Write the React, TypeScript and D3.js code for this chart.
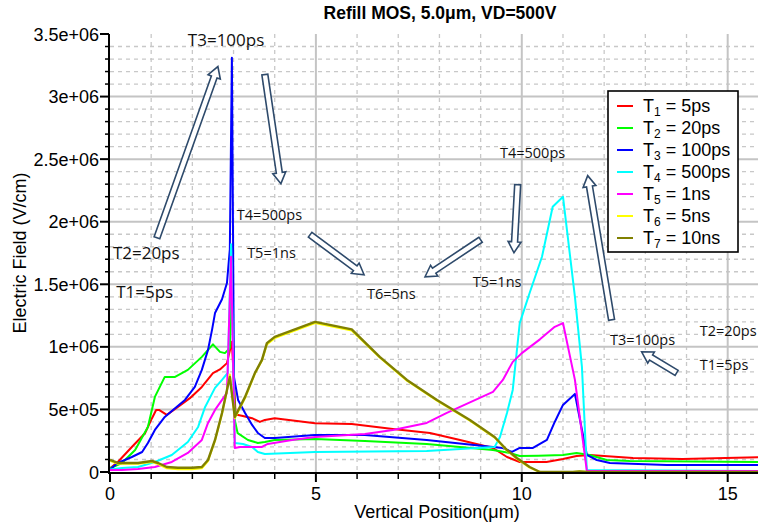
import * as d3 from "d3";

// series values [position (um), field (V/cm)]
const t1: [number, number][] = [
  [0, 3e4], [0.19, 8e4], [0.53, 2.0e5], [0.85, 3.1e5], [1.02, 4.3e5], [1.12, 4.96e5], [1.19, 4.96e5],
  [1.38, 4.56e5], [1.65, 5.2e5], [1.94, 5.9e5], [2.23, 6.8e5], [2.5, 7.9e5], [2.67, 8.2e5], [2.84, 8.7e5],
  [2.96, 1.04e6], [3.05, 4.6e5], [3.2, 4.5e5], [3.45, 4.3e5], [3.64, 4.0e5], [3.76, 4.16e5], [4.0, 4.3e5],
  [4.98, 3.9e5], [5.87, 3.84e5], [6.87, 3.44e5], [7.77, 3.12e5], [8.5, 2.56e5], [9.3, 1.92e5], [9.64, 1.2e5],
  [9.95, 8e4], [10.6, 8e4], [11.0, 1.04e5], [11.33, 1.28e5], [11.65, 1.36e5], [12.7, 1.12e5], [13.9, 1.04e5],
  [16, 1.2e5],
];
const t2: [number, number][] = [
  [0, 3e4], [0.29, 7.2e4], [0.61, 1.76e5], [0.92, 3.6e5], [1.09, 6.0e5], [1.33, 7.6e5], [1.58, 7.6e5],
  [1.89, 8.16e5], [2.23, 9.2e5], [2.5, 1.02e6], [2.67, 9.6e5], [2.79, 9.5e5], [2.91, 9.9e5], [2.95, 1.6e6],
  [3.03, 4.16e5], [3.1, 3.1e5], [3.35, 2.56e5], [3.59, 2.32e5], [3.76, 2.4e5], [4.0, 2.56e5], [4.98, 2.64e5],
  [6.19, 2.48e5], [7.69, 2.24e5], [9.3, 1.76e5], [9.71, 1.52e5], [9.95, 1.28e5], [10.4, 1.3e5], [11.0, 1.36e5],
  [11.33, 1.52e5], [11.65, 1.36e5], [12.06, 9.6e4], [12.62, 8.8e4], [16, 8e4],
];
const t3: [number, number][] = [
  [0, 2e4], [0.19, 7.2e4], [0.53, 1.2e5], [0.78, 1.6e5], [0.92, 2.32e5], [1.09, 3.36e5], [1.33, 4.4e5],
  [1.58, 5.1e5], [1.82, 5.76e5], [2.06, 6.8e5], [2.23, 8.16e5], [2.38, 9.76e5], [2.48, 1.14e6], [2.55, 1.27e6],
  [2.72, 1.38e6], [2.84, 1.51e6], [2.91, 1.78e6], [2.96, 3.31e6], [3.01, 7.6e5], [3.11, 5.76e5], [3.28, 4.72e5],
  [3.45, 3.76e5], [3.59, 3.12e5], [3.76, 2.72e5], [4.0, 2.72e5], [4.98, 2.96e5], [6.19, 2.96e5], [7.69, 2.56e5],
  [9.3, 2.0e5], [9.54, 1.92e5], [9.76, 1.6e5], [9.95, 1.92e5], [10.27, 1.92e5], [10.61, 2.56e5], [10.8, 4.0e5],
  [11.0, 5.36e5], [11.29, 6.24e5], [11.58, 1.36e5], [11.82, 9.6e4], [12.14, 7.2e4], [13.52, 5.6e4], [16, 5.6e4],
];
const t4: [number, number][] = [
  [0, 2e4], [0.29, 3.2e4], [0.68, 4e4], [1.09, 8e4], [1.5, 1.36e5], [1.89, 2.4e5], [2.14, 3.6e5],
  [2.31, 5.2e5], [2.55, 6.72e5], [2.72, 7.36e5], [2.86, 7.92e5], [2.94, 1.82e6], [3.03, 2.32e5], [3.23, 2.24e5],
  [3.45, 2.0e5], [3.59, 1.6e5], [3.76, 1.44e5], [4.98, 1.6e5], [7.69, 1.68e5], [9.34, 2.0e5], [9.47, 2.8e5],
  [9.64, 4.72e5], [9.78, 6.56e5], [9.95, 1.19e6], [10.19, 1.43e6], [10.49, 1.72e6], [10.75, 2.12e6],
  [11.0, 2.2e6], [11.29, 1.4e6], [11.46, 8.4e5], [11.58, 1.6e4], [16, 8e3],
];
const t5: [number, number][] = [
  [0, 1.6e4], [0.29, 1.6e4], [0.68, 2.4e4], [1.09, 4e4], [1.5, 8e4], [1.89, 1.52e5], [2.23, 2.56e5],
  [2.38, 3.92e5], [2.55, 4.96e5], [2.72, 5.76e5], [2.84, 6.32e5], [2.94, 1.72e6], [3.03, 1.92e5], [3.16, 2.0e5],
  [3.45, 2.0e5], [3.69, 2.0e5], [3.83, 2.24e5], [4.42, 2.56e5], [4.98, 2.8e5], [6.19, 3.04e5], [6.87, 3.36e5],
  [7.69, 3.92e5], [8.18, 4.72e5], [9.3, 6.4e5], [9.54, 7.36e5], [9.78, 8.8e5], [10.0, 9.5e5], [10.44, 1.06e6],
  [10.8, 1.16e6], [11.0, 1.19e6], [11.29, 7.36e5], [11.58, 8e3], [16, 8e3],
];
const t6: [number, number][] = [
  [0, 9e4], [0.19, 6.6e4], [0.68, 6.6e4], [1.02, 8e4], [1.17, 6.4e4], [1.38, 3e4], [1.65, 2.2e4],
  [1.99, 2.2e4], [2.23, 3e4], [2.38, 8.8e4], [2.55, 2.5e5], [2.72, 4.66e5], [2.84, 6.5e5], [2.91, 7.8e5],
  [3.03, 4.3e5], [3.28, 5.9e5], [3.52, 7.86e5], [3.69, 8.9e5], [3.81, 1.02e6], [4.0, 1.07e6], [4.98, 1.19e6],
  [5.87, 1.13e6], [6.55, 9.15e5], [7.21, 7.3e5], [7.94, 5.7e5], [8.74, 4.1e5], [9.34, 2.75e5], [9.64, 1.7e5],
  [9.88, 1.06e5], [10.19, 3.5e4], [10.44, 0], [11.24, 0], [11.4, 5e3], [11.6, 0], [16, 0],
];
const t7: [number, number][] = [
  [0, 9.6e4], [0.19, 7.2e4], [0.68, 7.2e4], [1.02, 8.8e4], [1.17, 7.2e4], [1.38, 4e4], [1.65, 3.4e4],
  [1.99, 3.4e4], [2.23, 4e4], [2.38, 9.6e4], [2.55, 2.56e5], [2.72, 4.72e5], [2.84, 6.56e5], [2.91, 7.6e5],
  [3.03, 4.4e5], [3.28, 6e5], [3.52, 7.92e5], [3.69, 8.96e5], [3.81, 1.03e6], [4.0, 1.08e6], [4.98, 1.2e6],
  [5.87, 1.14e6], [6.55, 9.2e5], [7.21, 7.36e5], [7.94, 5.76e5], [8.74, 4.16e5], [9.34, 2.8e5], [9.64, 1.76e5],
  [9.88, 1.12e5], [10.19, 4e4], [10.44, 0], [11.24, 0], [11.4, 5e3], [11.6, 0], [16, 0],
];

const series = [t1, t2, t3, t4, t5, t6, t7];
const colors = ["#ff0000", "#00ff00", "#0000ff", "#00ffff", "#ff00ff", "#ffff00", "#808000"];
const legendSubs = ["1", "2", "3", "4", "5", "6", "7"];
const legendVals = ["5ps", "20ps", "100ps", "500ps", "1ns", "5ns", "10ns"];

const yMajor = [0, 5e5, 1e6, 1.5e6, 2e6, 2.5e6, 3e6, 3.5e6];
const yTickLabels = ["0", "5e+05", "1e+06", "1.5e+06", "2e+06", "2.5e+06", "3e+06", "3.5e+06"];
const xMajor = [0, 5, 10, 15];
const xTickLabels = ["0", "5", "10", "15"];

// annotations: [text, x, y, large]
const notes: [string, number, number, boolean][] = [
  ["T3=100ps", 1.89, 3.408e6, true],
  ["T4=500ps", 3.08, 2.016e6, false],
  ["T5=1ns", 3.33, 1.712e6, false],
  ["T2=20ps", 0.07, 1.704e6, true],
  ["T1=5ps", 0.15, 1.392e6, true],
  ["T6=5ns", 6.24, 1.384e6, false],
  ["T5=1ns", 8.81, 1.48e6, false],
  ["T4=500ps", 9.47, 2.512e6, false],
  ["T3=100ps", 12.14, 1.016e6, false],
  ["T2=20ps", 14.32, 1.088e6, false],
  ["T1=5ps", 14.32, 8.16e5, false],
];
// arrows: [tailX, tailY, tipX, tipY]
const arrows: [number, number, number, number][] = [
  [1.14, 1.872e6, 2.62, 3.24e6],
  [3.76, 3.176e6, 4.15, 2.304e6],
  [4.86, 1.896e6, 6.17, 1.576e6],
  [9.0, 1.856e6, 7.65, 1.56e6],
  [9.9, 2.296e6, 9.81, 1.752e6],
  [12.18, 1.216e6, 11.6, 2.368e6],
  [13.76, 7.92e5, 12.91, 9.6e5],
];

const W = 758;
const H = 527;
const left = 110;
const top = 34;
const bottom = 472;

const x = d3.scaleLinear().domain([0, 16]).range([left, left + 16 * 41.18]);
const y = d3.scaleLinear().domain([0, 3.5e6]).range([bottom, top]);

const arrowPath = (x1: number, y1: number, x2: number, y2: number) => {
  const dx = x2 - x1, dy = y2 - y1;
  const len = Math.hypot(dx, dy);
  const ux = dx / len, uy = dy / len;
  const nx = -uy, ny = ux;
  const w = 3, hw = 6.5, hl = 11;
  const bx = x2 - ux * hl, by = y2 - uy * hl;
  const pts = [
    [x1 + nx * w, y1 + ny * w], [bx + nx * w, by + ny * w], [bx + nx * hw, by + ny * hw], [x2, y2],
    [bx - nx * hw, by - ny * hw], [bx - nx * w, by - ny * w], [x1 - nx * w, y1 - ny * w],
  ];
  return "M" + pts.map((p) => p.join(",")).join("L") + "Z";
};

export default function App() {
  const line = d3.line<[number, number]>().x((d) => x(d[0])).y((d) => y(d[1]));
  const minorX = d3.range(1, 16).filter((v) => v % 5 !== 0);
  const minorY = d3.range(1e5, 3.5e6, 1e5).filter((v) => Math.round(v / 1e5) % 5 !== 0);
  const font = "'Liberation Sans', Arial, sans-serif";
  const noteFont = "'Open Sans', 'Noto Sans', sans-serif";

  return (
    <svg width={W} height={H} style={{ position: "absolute", left: 0, top: 0, background: "#fff" }}>
      {/* grid */}
      {minorX.map((v) => (
        <line key={"gx" + v} x1={x(v)} x2={x(v)} y1={top} y2={bottom} stroke="#c8c8c8" strokeWidth={1.3} strokeDasharray="4,4" />
      ))}
      {minorY.map((v) => (
        <line key={"gy" + v} x1={left} x2={W} y1={y(v)} y2={y(v)} stroke="#c8c8c8" strokeWidth={1.3} strokeDasharray="4,4" />
      ))}
      {xMajor.slice(1).map((v) => (
        <line key={"Gx" + v} x1={x(v)} x2={x(v)} y1={top} y2={bottom} stroke="#c4c4c4" strokeWidth={2} />
      ))}
      {yMajor.slice(1, 7).map((v) => (
        <line key={"Gy" + v} x1={left} x2={W} y1={y(v)} y2={y(v)} stroke="#c4c4c4" strokeWidth={2} />
      ))}

      {/* curves */}
      {series.map((s, i) => (
        <path key={"s" + i} d={line(s) || ""} fill="none" stroke={colors[i]} strokeWidth={i === 6 ? 2.4 : 2} strokeLinejoin="round" />
      ))}

      {/* axes */}
      <line x1={left - 1} x2={left - 1} y1={top} y2={bottom + 2} stroke="#000" strokeWidth={2} />
      <line x1={left - 2} x2={W} y1={bottom + 1} y2={bottom + 1} stroke="#000" strokeWidth={2} />
      {yMajor.map((v, i) => (
        <g key={"yt" + v}>
          <line x1={left - 10} x2={left - 1} y1={y(v)} y2={y(v)} stroke="#000" strokeWidth={2} />
          <text x={left - 11} y={y(v) + 6.5} textAnchor="end" fontFamily={font} fontSize={18} fill="#000">
            {yTickLabels[i]}
          </text>
        </g>
      ))}
      {minorY.map((v) => (
        <line key={"ym" + v} x1={left - 5} x2={left - 1} y1={y(v)} y2={y(v)} stroke="#000" strokeWidth={1.5} />
      ))}
      {xMajor.map((v, i) => (
        <g key={"xt" + v}>
          <line x1={x(v)} x2={x(v)} y1={bottom + 1} y2={bottom + 10} stroke="#000" strokeWidth={2} />
          <text x={x(v)} y={bottom + 28} textAnchor="middle" fontFamily={font} fontSize={18} fill="#000">
            {xTickLabels[i]}
          </text>
        </g>
      ))}
      {minorX.map((v) => (
        <line key={"xm" + v} x1={x(v)} x2={x(v)} y1={bottom + 1} y2={bottom + 7} stroke="#000" strokeWidth={1.5} />
      ))}

      {/* titles */}
      <text x={440} y={19} textAnchor="middle" fontFamily={font} fontWeight="bold" fontSize={17.5} fill="#000">
        Refill MOS, 5.0μm, VD=500V
      </text>
      <text x={437} y={518} textAnchor="middle" fontFamily={font} fontSize={18} fill="#000">
        Vertical Position(μm)
      </text>
      <text transform={`translate(26,${(top + bottom) / 2}) rotate(-90)`} textAnchor="middle" fontFamily={font} fontSize={18} fill="#000">
        Electric Field (V/cm)
      </text>

      {/* annotations */}
      {arrows.map((a, i) => (
        <path key={"a" + i} d={arrowPath(x(a[0]), y(a[1]), x(a[2]), y(a[3]))} fill="#fff" stroke="#2e4a6b" strokeWidth={1.6} strokeLinejoin="miter" />
      ))}
      {notes.map((n, i) => (
        <text key={"n" + i} x={x(n[1])} y={y(n[2])} fontFamily={noteFont} fontSize={n[3] ? 17 : 14.5} fill="#111">
          {n[0]}
        </text>
      ))}

      {/* legend */}
      <rect x={608} y={91} width={130} height={161} fill="#fff" stroke="#000" strokeWidth={1.6} />
      {legendVals.map((v, i) => (
        <g key={"l" + i} transform={`translate(0,${106 + i * 22})`}>
          <line x1={617} x2={633} y1={0} y2={0} stroke={colors[i]} strokeWidth={2} />
          <text x={643} y={6} fontFamily={font} fontSize={18} fill="#000">
            T<tspan fontSize={12} dy={4}>{legendSubs[i]}</tspan>
            <tspan dy={-4}>{" = " + v}</tspan>
          </text>
        </g>
      ))}
    </svg>
  );
}
